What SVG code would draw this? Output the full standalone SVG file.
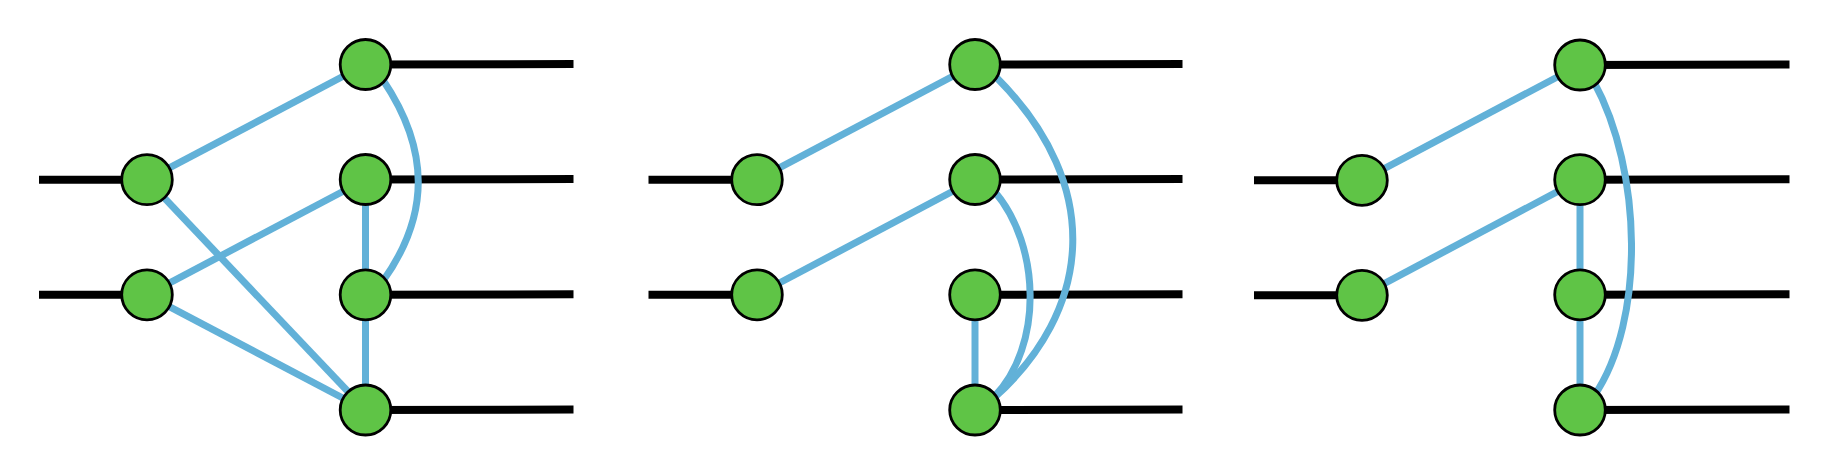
<svg xmlns="http://www.w3.org/2000/svg" width="1842" height="472" viewBox="0 0 1842 472">
<style>
.w{stroke:#000;stroke-width:8;fill:none}
.e{stroke:#62b1d8;stroke-width:7;fill:none}
.n{fill:#5fc446;stroke:#000;stroke-width:2.8}
</style>
<rect width="1842" height="472" fill="#fff"/>
<g id="wires">
<line class="w" x1="39" y1="179.7" x2="147" y2="179.7"/>
<line class="w" x1="39" y1="294.8" x2="147" y2="294.8"/>
<line class="w" x1="365.5" y1="64.5" x2="573.5" y2="64"/>
<line class="w" x1="365.5" y1="179.5" x2="573.5" y2="179"/>
<line class="w" x1="365.5" y1="294.8" x2="573.5" y2="294.3"/>
<line class="w" x1="365.5" y1="410" x2="573.5" y2="409.5"/>
<line class="w" x1="648.5" y1="179.7" x2="757" y2="179.7"/>
<line class="w" x1="648.5" y1="294.8" x2="757" y2="294.8"/>
<line class="w" x1="975" y1="64.5" x2="1182.5" y2="64"/>
<line class="w" x1="975" y1="179.5" x2="1182.5" y2="179"/>
<line class="w" x1="975" y1="294.8" x2="1182.5" y2="294.3"/>
<line class="w" x1="975" y1="410" x2="1182.5" y2="409.5"/>
<line class="w" x1="1254" y1="180.3" x2="1362" y2="180.3"/>
<line class="w" x1="1254" y1="295.3" x2="1362" y2="295.3"/>
<line class="w" x1="1580" y1="65" x2="1789.5" y2="64.5"/>
<line class="w" x1="1580" y1="179.7" x2="1789.5" y2="179.2"/>
<line class="w" x1="1580" y1="294.8" x2="1789.5" y2="294.3"/>
<line class="w" x1="1580" y1="410" x2="1789.5" y2="409.5"/>
</g>
<g id="connectors">
<line class="e" x1="147" y1="179.7" x2="365.5" y2="64.5"/>
<line class="e" x1="147" y1="179.7" x2="365.5" y2="410"/>
<line class="e" x1="147" y1="294.8" x2="365.5" y2="179.5"/>
<line class="e" x1="147" y1="294.8" x2="365.5" y2="410"/>
<line class="e" x1="365.5" y1="179.5" x2="365.5" y2="410"/>
<path class="e" d="M383,80 C430,150 430,215 383,281"/>
<line class="e" x1="757" y1="179.7" x2="975" y2="64.5"/>
<line class="e" x1="757" y1="294.8" x2="975" y2="179.5"/>
<line class="e" x1="975" y1="294.8" x2="975" y2="410"/>
<path class="e" d="M995,192 C1040,245 1044,345 994,397"/>
<path class="e" d="M996,77 C1107,188 1090,312 994,398"/>
<line class="e" x1="1362" y1="180.3" x2="1580" y2="65"/>
<line class="e" x1="1362" y1="295.3" x2="1580" y2="179.7"/>
<line class="e" x1="1580" y1="179.7" x2="1580" y2="410"/>
<path class="e" d="M1594,82 C1642,170 1646,320 1594,396"/>
</g>
<g id="p1-l1"><ellipse class="n" cx="147" cy="179.7" rx="25.3" ry="25"/></g>
<g id="p1-l2"><ellipse class="n" cx="147" cy="294.8" rx="25.3" ry="25"/></g>
<g id="p1-r1"><ellipse class="n" cx="365.5" cy="64.5" rx="25.3" ry="25"/></g>
<g id="p1-r2"><ellipse class="n" cx="365.5" cy="179.5" rx="25.3" ry="25"/></g>
<g id="p1-r3"><ellipse class="n" cx="365.5" cy="294.8" rx="25.3" ry="25"/></g>
<g id="p1-r4"><ellipse class="n" cx="365.5" cy="410" rx="25.3" ry="25"/></g>
<g id="p2-l1"><ellipse class="n" cx="757" cy="179.7" rx="25.3" ry="25"/></g>
<g id="p2-l2"><ellipse class="n" cx="757" cy="294.8" rx="25.3" ry="25"/></g>
<g id="p2-r1"><ellipse class="n" cx="975" cy="64.5" rx="25.3" ry="25"/></g>
<g id="p2-r2"><ellipse class="n" cx="975" cy="179.5" rx="25.3" ry="25"/></g>
<g id="p2-r3"><ellipse class="n" cx="975" cy="294.8" rx="25.3" ry="25"/></g>
<g id="p2-r4"><ellipse class="n" cx="975" cy="410" rx="25.3" ry="25"/></g>
<g id="p3-l1"><ellipse class="n" cx="1362" cy="180.3" rx="25.3" ry="25"/></g>
<g id="p3-l2"><ellipse class="n" cx="1362" cy="295.3" rx="25.3" ry="25"/></g>
<g id="p3-r1"><ellipse class="n" cx="1580" cy="65" rx="25.3" ry="25"/></g>
<g id="p3-r2"><ellipse class="n" cx="1580" cy="179.7" rx="25.3" ry="25"/></g>
<g id="p3-r3"><ellipse class="n" cx="1580" cy="294.8" rx="25.3" ry="25"/></g>
<g id="p3-r4"><ellipse class="n" cx="1580" cy="410" rx="25.3" ry="25"/></g>
</svg>
